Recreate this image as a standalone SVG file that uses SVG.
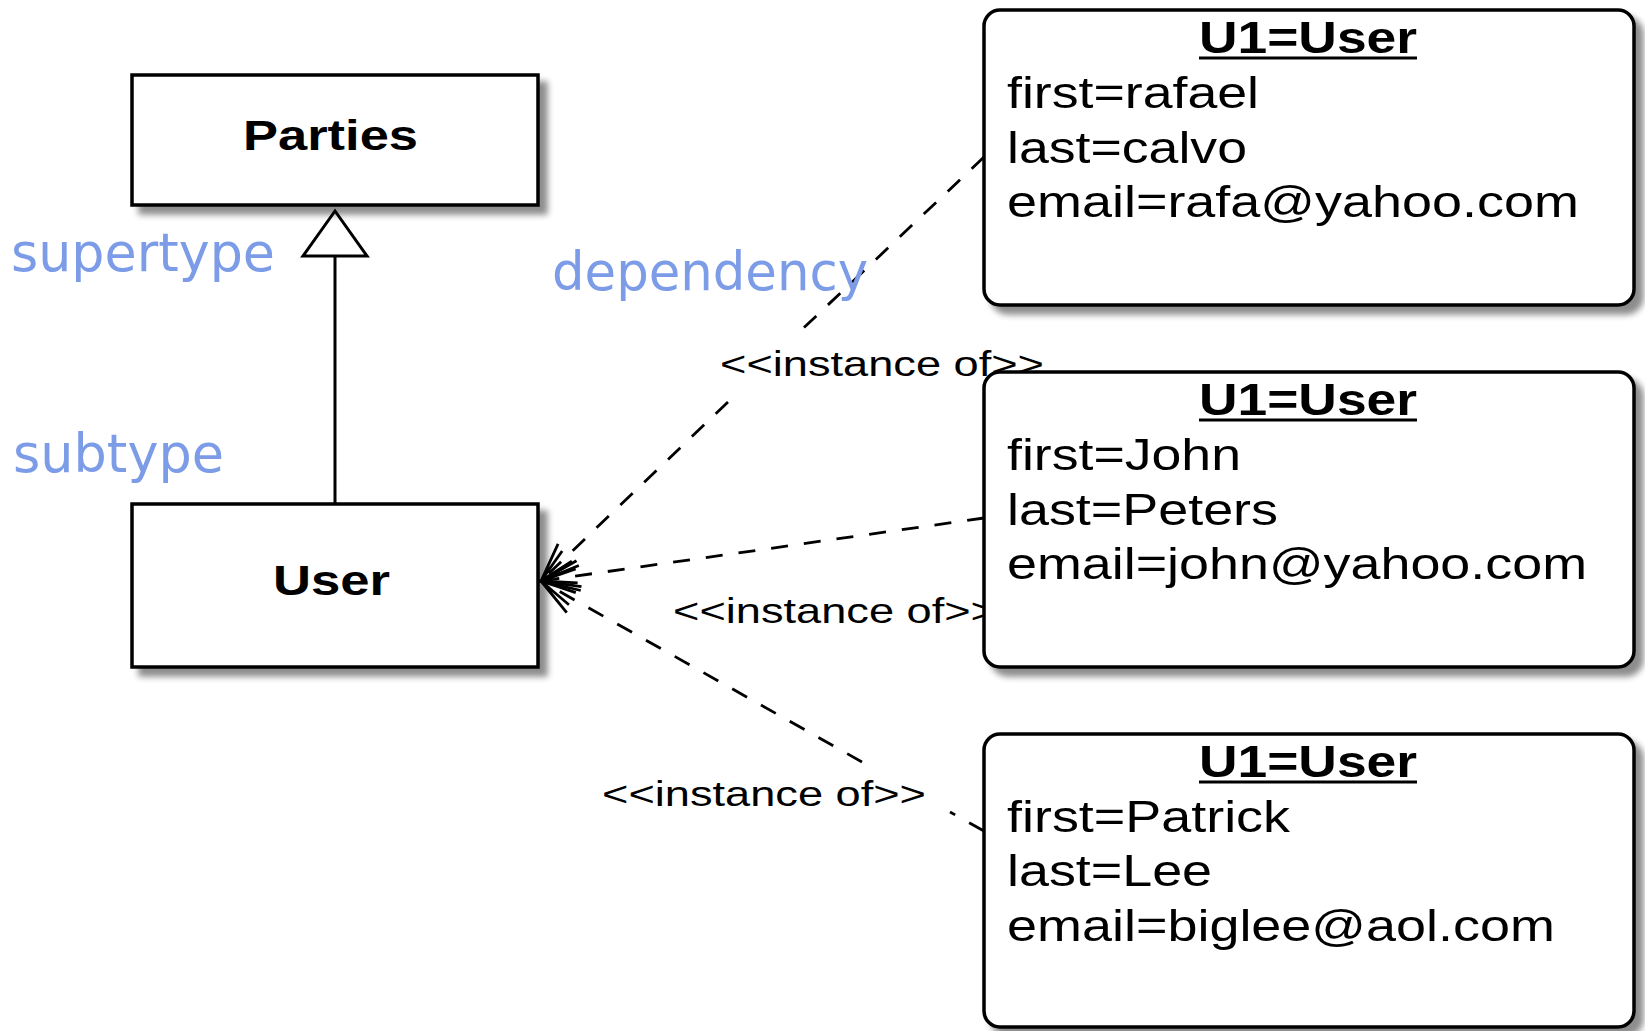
<svg xmlns="http://www.w3.org/2000/svg" width="1645" height="1031" viewBox="0 0 1645 1031">
<style>
.cls{fill:#fff;stroke:#000;stroke-width:3.5}
.obj{fill:#fff;stroke:#000;stroke-width:3.5}
.bold{font-family:"Liberation Sans",Arial,Helvetica,sans-serif;font-weight:bold;fill:#000}
.attr{font-family:"Liberation Sans",Arial,Helvetica,sans-serif;font-size:44px;fill:#000}
.lbl{font-family:"Liberation Sans",Arial,Helvetica,sans-serif;font-size:35px;fill:#000}
.note{font-family:"DejaVu Sans","Verdana",sans-serif;font-size:54px;fill:#7d9ce8}
.dep{fill:none;stroke:#000;stroke-width:2.8;stroke-dasharray:17 16}
</style>
<defs>
<filter id="sh" x="-5%" y="-5%" width="115%" height="120%">
<feGaussianBlur in="SourceAlpha" stdDeviation="3"/>
<feOffset dx="8" dy="8"/>
<feComponentTransfer><feFuncA type="linear" slope="0.45"/></feComponentTransfer>
<feMerge><feMergeNode/><feMergeNode in="SourceGraphic"/></feMerge>
</filter>
<marker id="open" viewBox="-42 -22 46 44" markerWidth="46" markerHeight="44" refX="0" refY="0" orient="auto" markerUnits="userSpaceOnUse">
<path d="M-38,-15 L0,0 L-38,15 M-36,-7 L0,0 L-36,7" fill="none" stroke="#000" stroke-width="2.8" stroke-dasharray="none"/>
</marker>
</defs>
<rect width="1645" height="1031" fill="#fff"/>

<g id="connectors">
<path class="dep" d="M984,157 L793,338"/>
<path class="dep" d="M728,402 L541,581" marker-end="url(#open)"/>
<path class="dep" d="M984,518 L541,581" marker-end="url(#open)"/>
<path class="dep" d="M984,831 L950,812"/>
<path class="dep" d="M862,762 L541,581" marker-end="url(#open)"/>
<line x1="335" y1="256" x2="335" y2="504" stroke="#000" stroke-width="3"/>
<polygon points="335,211 303,256 367,256" fill="#fff" stroke="#000" stroke-width="3"/>
<text class="lbl" x="720" y="376" textLength="324" lengthAdjust="spacingAndGlyphs">&lt;&lt;instance of&gt;&gt;</text>
<text class="lbl" x="673" y="623" textLength="324" lengthAdjust="spacingAndGlyphs">&lt;&lt;instance of&gt;&gt;</text>
<text class="lbl" x="602" y="806" textLength="324" lengthAdjust="spacingAndGlyphs">&lt;&lt;instance of&gt;&gt;</text>
</g>

<g id="parties">
<rect class="cls" x="132" y="75" width="406" height="130" filter="url(#sh)"/>
<text class="bold" x="243" y="150" font-size="43" textLength="175" lengthAdjust="spacingAndGlyphs">Parties</text>
</g>

<g id="user">
<rect class="cls" x="132" y="504" width="406" height="163" filter="url(#sh)"/>
<text class="bold" x="273" y="595" font-size="43" textLength="117" lengthAdjust="spacingAndGlyphs">User</text>
</g>

<g id="u1-rafael">
<rect class="obj" x="984" y="10" width="650" height="295" rx="16" filter="url(#sh)"/>
<text class="bold" x="1199" y="53" font-size="44" textLength="218" lengthAdjust="spacingAndGlyphs">U1=User</text>
<line x1="1199" y1="58" x2="1417" y2="58" stroke="#000" stroke-width="3"/>
<text class="attr" x="1007" y="108" textLength="252" lengthAdjust="spacingAndGlyphs">first=rafael</text>
<text class="attr" x="1007" y="163" textLength="240" lengthAdjust="spacingAndGlyphs">last=calvo</text>
<text class="attr" x="1007" y="217" textLength="572" lengthAdjust="spacingAndGlyphs">email=rafa@yahoo.com</text>
</g>

<g id="u1-john">
<rect class="obj" x="984" y="372" width="650" height="295" rx="16" filter="url(#sh)"/>
<text class="bold" x="1199" y="415" font-size="44" textLength="218" lengthAdjust="spacingAndGlyphs">U1=User</text>
<line x1="1199" y1="420" x2="1417" y2="420" stroke="#000" stroke-width="3"/>
<text class="attr" x="1007" y="470" textLength="234" lengthAdjust="spacingAndGlyphs">first=John</text>
<text class="attr" x="1007" y="525" textLength="271" lengthAdjust="spacingAndGlyphs">last=Peters</text>
<text class="attr" x="1007" y="579" textLength="580" lengthAdjust="spacingAndGlyphs">email=john@yahoo.com</text>
</g>

<g id="u1-patrick">
<rect class="obj" x="984" y="734" width="650" height="293" rx="16" filter="url(#sh)"/>
<text class="bold" x="1199" y="777" font-size="44" textLength="218" lengthAdjust="spacingAndGlyphs">U1=User</text>
<line x1="1199" y1="782" x2="1417" y2="782" stroke="#000" stroke-width="3"/>
<text class="attr" x="1007" y="832" textLength="283" lengthAdjust="spacingAndGlyphs">first=Patrick</text>
<text class="attr" x="1007" y="886" textLength="205" lengthAdjust="spacingAndGlyphs">last=Lee</text>
<text class="attr" x="1007" y="941" textLength="548" lengthAdjust="spacingAndGlyphs">email=biglee@aol.com</text>
</g>

<g id="annotations">
<text class="note" x="11" y="271" textLength="264" lengthAdjust="spacingAndGlyphs">supertype</text>
<text class="note" x="552" y="290" textLength="316" lengthAdjust="spacingAndGlyphs">dependency</text>
<text class="note" x="13" y="472" textLength="211" lengthAdjust="spacingAndGlyphs">subtype</text>
</g>
</svg>
